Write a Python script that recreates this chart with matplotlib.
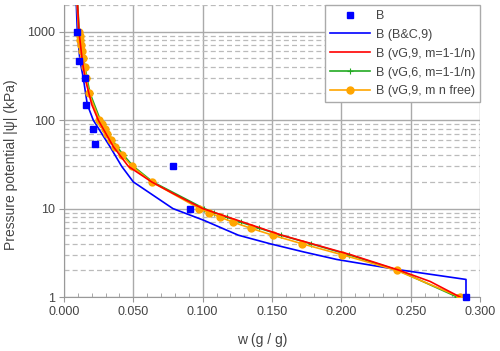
import numpy as np
import matplotlib.pyplot as plt
from matplotlib.ticker import FixedLocator, MultipleLocator, NullFormatter, FuncFormatter

plt.rcParams['font.family'] = ['Liberation Sans', 'DejaVu Sans']

# measured points B
b_w = [0.0092, 0.0110, 0.0151, 0.0159, 0.0209, 0.0221, 0.0786, 0.0911, 0.2899]
b_psi = [1000, 470, 300, 150, 80, 53, 30, 10, 1]

# Brooks & Corey fit
bc_w = [0.0089, 0.0096, 0.0115, 0.0139, 0.0168, 0.0211, 0.0332, 0.0416, 0.0500,
        0.0785, 0.1005, 0.1257, 0.1486, 0.1726, 0.1966, 0.2207, 0.2400, 0.2899, 0.2899]
bc_psi = [2000, 1000, 470, 300, 150, 100, 50, 30, 20,
          10, 7.4, 5, 4, 3.24, 2.66, 2.3, 2.05, 1.58, 1]

# van Genuchten, 9 params, m=1-1/n
vg9_w = [0.0092, 0.0108, 0.0132, 0.0151, 0.0200, 0.0247, 0.0356, 0.0464, 0.0632,
         0.0780, 0.1000, 0.1570, 0.2070, 0.2420, 0.2640, 0.2856]
vg9_psi = [3000, 1000, 470, 300, 150, 100, 50, 30, 20,
           15, 10, 5, 3, 2, 1.5, 1]

# psi values where the vG curves are marked
psi_pts = [3000, 1000, 900, 800, 700, 600, 500, 400, 300, 200,
           100, 90, 80, 70, 60, 50, 40, 30, 20,
           10, 9, 8, 7, 6, 5, 4, 3, 2, 1]

# van Genuchten, 6 params, m=1-1/n
vg6_w = [0.0092, 0.0110, 0.0115, 0.0120, 0.0126, 0.0133, 0.0141, 0.0151, 0.0165, 0.0188,
         0.0262, 0.0278, 0.0297, 0.0320, 0.0348, 0.0382, 0.0430, 0.0500, 0.0640,
         0.1010, 0.1084, 0.1173, 0.1276, 0.1408, 0.1565, 0.1780, 0.2055, 0.2410, 0.2836]

# van Genuchten, 9 params, m and n free
vgf_w = [0.0088, 0.0105, 0.0112, 0.0118, 0.0125, 0.0131, 0.0139, 0.0148, 0.0160, 0.0180,
         0.0255, 0.0275, 0.0293, 0.0313, 0.0338, 0.0368, 0.0418, 0.0490, 0.0632,
         0.0976, 0.1046, 0.1125, 0.1221, 0.1346, 0.1504, 0.1716, 0.2007, 0.2399, 0.2856]

fig = plt.figure(figsize=(5, 3.51), dpi=100)
ax = fig.add_axes([0.128, 0.1538, 0.832, 0.832])

ax.plot(b_w, b_psi, 's', color='#0000ff', markersize=5, label='B', zorder=6, clip_on=False)
ax.plot(bc_w, bc_psi, color='#0000ff', lw=1.2, label='B (B&C,9)', zorder=3)
ax.plot(vg9_w, vg9_psi, color='#ff0000', lw=1.2, label='B (vG,9, m=1-1/n)', zorder=5)
ax.plot(vg6_w, psi_pts, color='#22aa22', lw=1.2, marker='+', markersize=5,
        markeredgewidth=0.8, label='B (vG,6, m=1-1/n)', zorder=3.8)
ax.plot(vgf_w, psi_pts, color='#ffa500', lw=1.2, marker='o', markersize=5,
        label='B (vG,9, m n free)', zorder=4)

ax.set_yscale('log')
ax.set_xlim(0, 0.3)
ax.set_ylim(1, 2000)

ax.xaxis.set_major_locator(MultipleLocator(0.05))
ax.xaxis.set_minor_locator(MultipleLocator(0.01))
ax.xaxis.set_major_formatter(FuncFormatter(lambda v, p: f'{v:.3f}'))
ax.yaxis.set_major_locator(FixedLocator([1, 10, 100, 1000]))
ax.yaxis.set_major_formatter(FuncFormatter(lambda v, p: f'{v:g}'))
ax.yaxis.set_minor_locator(FixedLocator([m * d for d in [1, 10, 100, 1000] for m in range(2, 10)]))
ax.yaxis.set_minor_formatter(NullFormatter())

ax.grid(which='major', color='#aaaaaa', lw=1, linestyle='-')
ax.grid(which='minor', axis='y', color='#bbbbbb', lw=0.9, linestyle=(0, (4, 2.5)))
ax.set_axisbelow(True)

for s in ['top', 'right']:
    ax.spines[s].set_visible(False)
for s in ['left', 'bottom']:
    ax.spines[s].set_color('#999999')

ax.tick_params(which='major', length=3.5, color='#999999', labelcolor='#444444',
               labelsize=9, pad=3)
ax.tick_params(axis='x', which='minor', direction='in', length=3, color='#999999')
ax.tick_params(axis='y', which='minor', length=0)

ax.set_xlabel('w (g / g)', fontsize=10, color='#444444')
ax.set_ylabel('Pressure potential |ψ| (kPa)', fontsize=10, color='#444444')
ax.xaxis.set_label_coords(0.476, -0.123)
ax.yaxis.set_label_coords(-0.11, 0.452)

leg = ax.legend(loc='upper right', fontsize=9, numpoints=1, handlelength=3.2,
                handletextpad=0.5, labelspacing=0.55, borderaxespad=0,
                fancybox=False, framealpha=1, edgecolor='#aaaaaa')
leg.get_frame().set_linewidth(1)
for t in leg.get_texts():
    t.set_color('#444444')

plt.savefig('out.png', dpi=100)
